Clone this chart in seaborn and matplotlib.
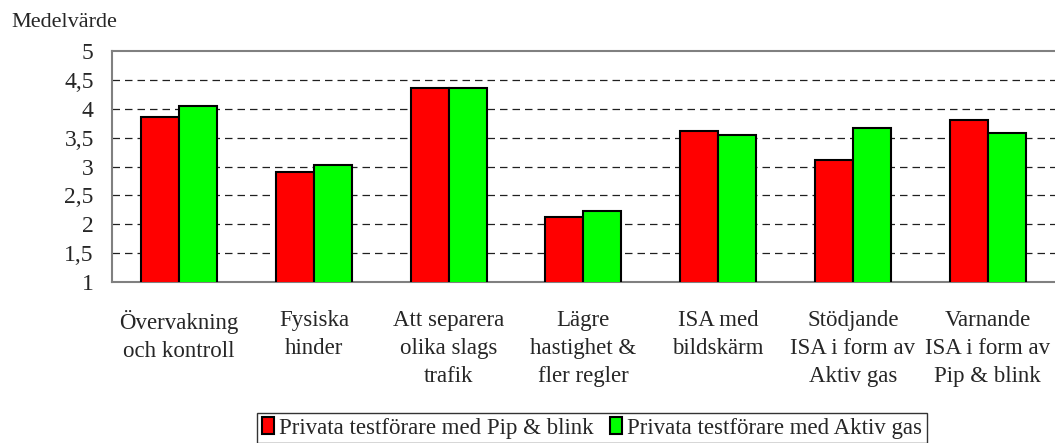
import numpy as np
import pandas as pd
import matplotlib
matplotlib.use("Agg")
import matplotlib.pyplot as plt
import seaborn as sns
from matplotlib.ticker import FixedLocator

categories = [
    "Övervakning\noch kontroll",
    "Fysiska\nhinder",
    "Att separera\nolika slags\ntrafik",
    "Lägre\nhastighet &\nfler regler",
    "ISA med\nbildskärm",
    "Stödjande\nISA i form av\nAktiv gas",
    "Varnande\nISA i form av\nPip & blink",
]
pip_blink = [3.86, 2.91, 4.36, 2.12, 3.62, 3.11, 3.80]
aktiv_gas = [4.05, 3.03, 4.36, 2.23, 3.54, 3.66, 3.58]
series_names = ["Privata testförare med Pip & blink", "Privata testförare med Aktiv gas"]
y_ticks = [1, 1.5, 2, 2.5, 3, 3.5, 4, 4.5, 5]
y_labels = ["1", "1,5", "2", "2,5", "3", "3,5", "4", "4,5", "5"]

df = pd.DataFrame({
    "kategori": categories * 2,
    "serie": [series_names[0]] * len(categories) + [series_names[1]] * len(categories),
    "varde": pip_blink + aktiv_gas,
})

sns.set_style("white")
plt.rcParams["font.family"] = ["Liberation Serif", "DejaVu Serif"]

fig = plt.figure(figsize=(10.55, 4.43), dpi=100)
ax = fig.add_axes([0.106, 0.3634, 0.894, 0.5215])

sns.barplot(data=df, x="kategori", y="varde", hue="serie",
            palette=["#ff0000", "#00ff00"], width=0.565, gap=0,
            edgecolor="black", linewidth=1.5, saturation=1, ax=ax, zorder=3)

ax.set_ylim(1, 5)
ax.set_xlim(-0.5, len(categories) - 0.5)
ax.set_yticks(y_ticks)
ax.set_yticklabels(y_labels, fontsize=17)
ax.set_xlabel("")
ax.set_ylabel("")

# dashed grid
for t in y_ticks[1:-1]:
    ax.axhline(t, color="#202020", linestyle=(0, (6, 4)), linewidth=0.9, zorder=1)

# x ticks at category boundaries
ax.tick_params(axis="x", which="major", length=0, pad=20, labelsize=16.5)
for lab in ax.get_xticklabels():
    lab.set_linespacing(1.45)
ax.xaxis.set_minor_locator(FixedLocator(np.arange(-0.5, len(categories), 1.0)))
ax.tick_params(axis="x", which="minor", length=7, width=1, color="#808080", direction="out")
ax.tick_params(axis="y", which="major", length=7, width=1, color="#808080", direction="out", pad=6)

for name in ["left", "bottom", "top"]:
    ax.spines[name].set_color("#808080")
    ax.spines[name].set_linewidth(1.5)
ax.spines["right"].set_visible(False)

fig.text(0.011, 0.95, "Medelvärde", fontsize=16, ha="left", va="center")

leg = ax.legend(loc="center", bbox_to_anchor=(0.509, -0.632), ncol=2, frameon=True,
                fancybox=False, edgecolor="black", fontsize=16.5, handlelength=0.55,
                handleheight=0.75, handletextpad=0.2, columnspacing=0.7,
                borderpad=0.2, borderaxespad=0)
leg.get_frame().set_linewidth(1.0)

fig.savefig("out.png", dpi=100)
